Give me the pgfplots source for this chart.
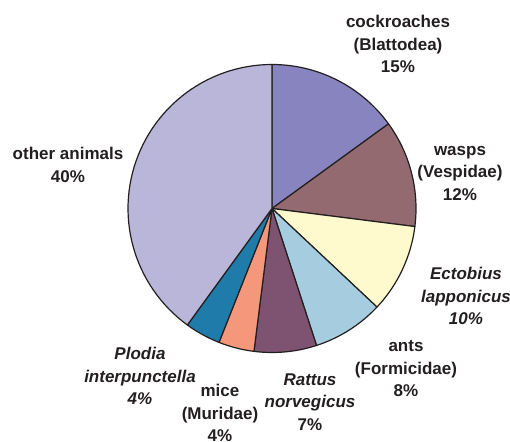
\documentclass[border=0pt]{standalone}
\usepackage{pgfplots}
\pgfplotsset{compat=1.18}
\usepackage{fontspec}
\setmainfont{Liberation Sans}
\definecolor{cockroach}{HTML}{8884C0}
\definecolor{wasp}{HTML}{936A70}
\definecolor{ectobius}{HTML}{FFFACD}
\definecolor{ant}{HTML}{A5CDDF}
\definecolor{rattus}{HTML}{7E5371}
\definecolor{mice}{HTML}{F4977A}
\definecolor{plodia}{HTML}{1E7BAA}
\definecolor{other}{HTML}{BAB6DA}
\definecolor{edge}{HTML}{231F20}
\definecolor{txt}{HTML}{231F20}
\begin{document}
\begin{tikzpicture}
\begin{axis}[scale only axis, width=510pt, height=441pt,
  xmin=0, xmax=510, ymin=0, ymax=441, hide axis, clip=false,
  every axis plot/.append style={draw=edge, line width=1.2pt, line join=round, samples=60}]
% percentages: 15, 12, 10, 8, 7, 4, 4, 40 (clockwise from 90 deg; 1% = 3.6 deg)
\def\cx{272}\def\cy{232.5}\def\r{144}
\addplot[fill=cockroach, domain=36:90]     ({\cx+\r*cos(x)},{\cy+\r*sin(x)}) -- (axis cs:272,232.5) -- cycle;
\addplot[fill=wasp,      domain=-7.2:36]   ({\cx+\r*cos(x)},{\cy+\r*sin(x)}) -- (axis cs:272,232.5) -- cycle;
\addplot[fill=ectobius,  domain=-43.2:-7.2] ({\cx+\r*cos(x)},{\cy+\r*sin(x)}) -- (axis cs:272,232.5) -- cycle;
\addplot[fill=ant,       domain=-72:-43.2]  ({\cx+\r*cos(x)},{\cy+\r*sin(x)}) -- (axis cs:272,232.5) -- cycle;
\addplot[fill=rattus,    domain=-97.2:-72]  ({\cx+\r*cos(x)},{\cy+\r*sin(x)}) -- (axis cs:272,232.5) -- cycle;
\addplot[fill=mice,      domain=-111.6:-97.2] ({\cx+\r*cos(x)},{\cy+\r*sin(x)}) -- (axis cs:272,232.5) -- cycle;
\addplot[fill=plodia,    domain=-126:-111.6] ({\cx+\r*cos(x)},{\cy+\r*sin(x)}) -- (axis cs:272,232.5) -- cycle;
\addplot[fill=other,     domain=-270:-126]  ({\cx+\r*cos(x)},{\cy+\r*sin(x)}) -- (axis cs:272,232.5) -- cycle;
\begin{scope}[every node/.style={align=center, text=txt, font=\fontsize{17}{22.5}\selectfont\bfseries}]
\node at (axis cs:398,397) {cockroaches\\(Blattodea)\\15\%};
\node at (axis cs:460,268) {wasps\\(Vespidae)\\12\%};
\node at (axis cs:466,145) {\itshape Ectobius\\\itshape lapponicus\\\itshape 10\%};
\node at (axis cs:406,72) {ants\\(Formicidae)\\8\%};
\node at (axis cs:310,39) {\itshape Rattus\\\itshape norvegicus\\7\%};
\node at (axis cs:220,28) {mice\\(Muridae)\\4\%};
\node at (axis cs:140,65) {\itshape Plodia\\\itshape interpunctella\\\itshape 4\%};
\node at (axis cs:68,276) {other animals\\40\%};
\end{scope}
\end{axis}
\pgfresetboundingbox
\path (current axis.south west) rectangle (current axis.north east);
\end{tikzpicture}
\end{document}
